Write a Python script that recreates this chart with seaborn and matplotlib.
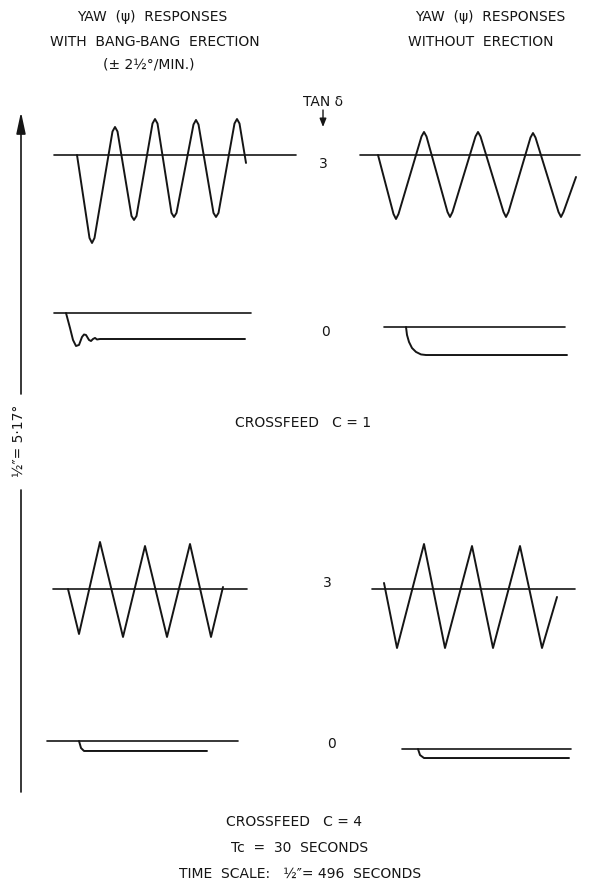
import matplotlib
matplotlib.use("Agg")
import matplotlib.pyplot as plt
import seaborn as sns
import pandas as pd

# ---------------- data (time in seconds from start of each reference line,
# yaw in degrees; scales: 1/2" = 496 s, 1/2" = 5.17 deg) ----------------
# C = 1, tan(delta) = 3, with bang-bang erection
c1_t3_erect_t = [230, 355, 380, 405, 585, 610, 635, 775, 800, 825, 985, 1010, 1035,
                 1175, 1200, 1225, 1395, 1420, 1445, 1595, 1620, 1645, 1805, 1830, 1855, 1920]
c1_t3_erect_y = [0, -8.65, -9.17, -8.65, 2.45, 2.92, 2.45, -6.36, -6.77, -6.36, 3.28, 3.75, 3.28,
                 -6.04, -6.46, -6.04, 3.18, 3.65, 3.18, -6.04, -6.46, -6.04, 3.28, 3.75, 3.28, -0.83]
c1_t3_erect_ref = 2420

# C = 1, tan(delta) = 3, without erection
c1_t3_free_t = [180, 335, 360, 385, 615, 640, 665, 875, 900, 925, 1155, 1180, 1205,
                1435, 1460, 1485, 1705, 1730, 1755, 1985, 2010, 2035, 2160]
c1_t3_free_y = [0, -6.15, -6.67, -6.15, 1.93, 2.40, 1.93, -5.94, -6.46, -5.94, 1.93, 2.40, 1.93,
                -5.94, -6.46, -5.94, 1.82, 2.29, 1.82, -5.94, -6.46, -5.94, -2.29]
c1_t3_free_ref = 2200

# C = 1, tan(delta) = 0, with erection
c1_t0_erect_t = [120, 160, 190, 220, 250, 280, 300, 320, 350, 370, 390, 410, 430, 460, 1910]
c1_t0_erect_y = [0, -1.56, -2.81, -3.44, -3.33, -2.50, -2.24, -2.29, -2.81, -2.92, -2.71,
                 -2.60, -2.76, -2.71, -2.71]
c1_t0_erect_ref = 1970

# C = 1, tan(delta) = 0, without erection
c1_t0_free_t = [220, 230, 250, 280, 320, 370, 420, 1830]
c1_t0_free_y = [0, -0.83, -1.56, -2.19, -2.60, -2.86, -2.92, -2.92]
c1_t0_free_ref = 1810

# C = 4, tan(delta) = 3, with erection
c4_t3_erect_t = [150, 260, 470, 700, 920, 1140, 1370, 1580, 1700]
c4_t3_erect_y = [0, -4.69, 4.90, -5.00, 4.48, -5.00, 4.69, -5.00, 0.21]
c4_t3_erect_ref = 1940

# C = 4, tan(delta) = 3, without erection
c4_t3_free_t = [120, 250, 520, 730, 1000, 1210, 1480, 1700, 1850]
c4_t3_free_y = [0.63, -6.15, 4.69, -6.15, 4.48, -6.15, 4.48, -6.15, -0.83]
c4_t3_free_ref = 2030

# C = 4, tan(delta) = 0, with erection
c4_t0_erect_t = [320, 340, 370, 1600]
c4_t0_erect_y = [0, -0.73, -1.04, -1.04]
c4_t0_erect_ref = 1910

# C = 4, tan(delta) = 0, without erection
c4_t0_free_t = [160, 180, 220, 1670]
c4_t0_free_y = [0, -0.63, -0.94, -0.94]
c4_t0_free_ref = 1690

# ---------------- layout ----------------
W, H, DPI = 616, 894, 100
PX_PER_S = 49.6 / 496.0      # 1/2 inch ~ 49.6 px
PX_PER_DEG = 49.6 / 5.17

sns.set_theme(style="white")
plt.rcParams["font.family"] = ["DejaVu Sans"]
INK = "#151515"

fig = plt.figure(figsize=(W / DPI, H / DPI), dpi=DPI)
fig.patch.set_facecolor("white")
base = fig.add_axes([0, 0, 1, 1])
base.set_xlim(0, W)
base.set_ylim(H, 0)
base.axis("off")

panels = [
    (c1_t3_erect_t, c1_t3_erect_y, c1_t3_erect_ref, (54, 155)),
    (c1_t3_free_t, c1_t3_free_y, c1_t3_free_ref, (360, 155)),
    (c1_t0_erect_t, c1_t0_erect_y, c1_t0_erect_ref, (54, 313)),
    (c1_t0_free_t, c1_t0_free_y, c1_t0_free_ref, (384, 327)),
    (c4_t3_erect_t, c4_t3_erect_y, c4_t3_erect_ref, (53, 589)),
    (c4_t3_free_t, c4_t3_free_y, c4_t3_free_ref, (372, 589)),
    (c4_t0_erect_t, c4_t0_erect_y, c4_t0_erect_ref, (47, 741)),
    (c4_t0_free_t, c4_t0_free_y, c4_t0_free_ref, (402, 749)),
]

for t, y, ref, (x0, y0) in panels:
    ax = fig.add_axes([0, 0, 1, 1])
    ax.set_xlim(-x0 / PX_PER_S, (W - x0) / PX_PER_S)
    ax.set_ylim(-(H - y0) / PX_PER_DEG, y0 / PX_PER_DEG)
    ax.axis("off")
    ax.patch.set_alpha(0)
    refdf = pd.DataFrame({"t": [0, ref], "y": [0, 0]})
    sns.lineplot(data=refdf, x="t", y="y", ax=ax, color=INK, lw=1.2,
                 estimator=None, sort=False, legend=False)
    df = pd.DataFrame({"t": t, "y": y})
    sns.lineplot(data=df, x="t", y="y", ax=ax, color=INK, lw=1.4,
                 estimator=None, sort=False, legend=False,
                 solid_joinstyle="round", solid_capstyle="round")

# left vertical scale arrow
base.plot([21, 21], [792, 490], color=INK, lw=1.2)
base.annotate("", xy=(21, 112), xytext=(21, 394),
              arrowprops=dict(arrowstyle="-|>,head_length=1.3,head_width=0.28",
                              color=INK, lw=1.2, mutation_scale=10, shrinkA=0, shrinkB=0))
base.text(19, 441, "½″= 5·17°", rotation=90, ha="center", va="center",
          fontsize=10, color=INK)

fs = 10
texts = [
    ("YAW  (ψ)  RESPONSES", 152, 17),
    ("WITH  BANG-BANG  ERECTION", 155, 42),
    ("(± 2½°/MIN.)", 149, 65),
    ("YAW  (ψ)  RESPONSES", 490, 17),
    ("WITHOUT  ERECTION", 481, 42),
    ("TAN δ", 323, 102),
    ("3", 323, 164),
    ("0", 325, 332),
    ("CROSSFEED   C = 1", 303, 423),
    ("3", 327, 583),
    ("0", 331, 744),
    ("CROSSFEED   C = 4", 294, 822),
    ("Tc  =  30  SECONDS", 300, 848),
    ("TIME  SCALE:   ½″= 496  SECONDS", 300, 874),
]
for s, x, y in texts:
    base.text(x, y, s, ha="center", va="center", fontsize=fs, color=INK)

base.annotate("", xy=(323, 127), xytext=(323, 110),
              arrowprops=dict(arrowstyle="-|>,head_length=0.5,head_width=0.2",
                              color=INK, lw=1.0, mutation_scale=10, shrinkA=0, shrinkB=0))

fig.savefig("out.png", dpi=DPI, facecolor="white")
